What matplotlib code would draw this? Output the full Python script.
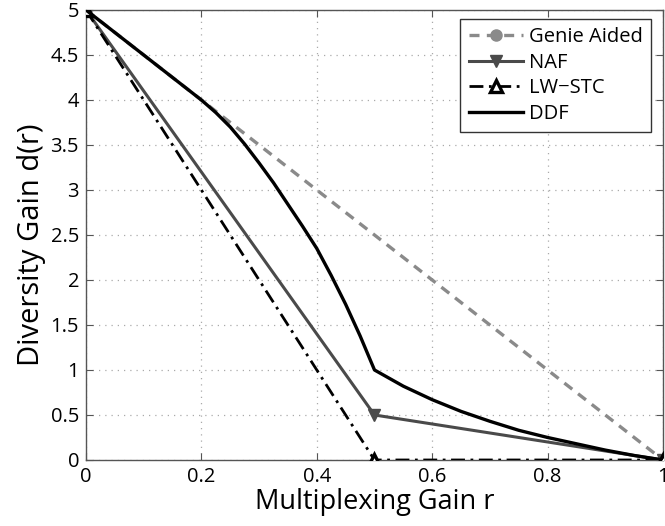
import matplotlib
matplotlib.use("Agg")
from matplotlib import pyplot as plt

# Data
r_genie = [0, 1]
d_genie = [5, 0]

r_naf = [0, 0.5, 1]
d_naf = [5, 0.5, 0]

r_lw = [0, 0.5, 1]
d_lw = [5, 0, 0]

r_ddf = [0, 0.2, 0.225, 0.25, 0.275, 0.3, 0.325, 0.35, 0.375, 0.4, 0.425, 0.45, 0.475, 0.5,
         0.55, 0.6, 0.65, 0.7, 0.75, 0.8, 0.85, 0.9, 0.95, 1.0]
d_ddf = [5, 4.0, 3.86, 3.70, 3.51, 3.30, 3.08, 2.84, 2.60, 2.35, 2.05, 1.73, 1.38, 1.0,
         0.82, 0.67, 0.54, 0.43, 0.33, 0.25, 0.18, 0.11, 0.05, 0]

x_ticks = [0, 0.2, 0.4, 0.6, 0.8, 1]
x_labels = ["0", "0.2", "0.4", "0.6", "0.8", "1"]
y_ticks = [0, 0.5, 1, 1.5, 2, 2.5, 3, 3.5, 4, 4.5, 5]
y_labels = ["0", "0.5", "1", "1.5", "2", "2.5", "3", "3.5", "4", "4.5", "5"]

plt.rcParams['font.family'] = ['Open Sans', 'DejaVu Sans']

fig = plt.figure(figsize=(6.65, 5.26), dpi=100)
ax = fig.add_axes([0.1293, 0.1255, 0.8677, 0.8555])

ax.plot(r_genie, d_genie, color="#8a8a8a", lw=2.4, ls=(0, (3, 2.2)),
        marker="o", ms=8, mfc="#8a8a8a", mec="#8a8a8a", label="Genie Aided", zorder=2)
ax.plot(r_naf, d_naf, color="#4a4a4a", lw=2.2, marker="v", ms=9,
        mfc="#4a4a4a", mec="#4a4a4a", label="NAF", zorder=3)
ax.plot(r_lw, d_lw, color="black", lw=2.0, ls=(0, (5, 2, 1, 2)), marker="^", ms=9,
        mfc="white", mec="black", mew=2.4, label="LW\u2212STC", zorder=4)
ax.plot(r_ddf, d_ddf, color="black", lw=2.4, label="DDF", zorder=5)

ax.set_xlim(0, 1)
ax.set_ylim(0, 5)
ax.set_xticks(x_ticks)
ax.set_xticklabels(x_labels)
ax.set_yticks(y_ticks)
ax.set_yticklabels(y_labels)
ax.tick_params(direction="in", top=True, right=True, labelsize=14.5, length=5,
               color="#555555", pad=5)
for s in ax.spines.values():
    s.set_color("#555555")
    s.set_linewidth(1.0)
ax.grid(True, ls=(0, (1, 4)), color="#aaaaaa", lw=0.9)

ax.set_xlabel("Multiplexing Gain r", fontsize=19.5, labelpad=1)
ax.set_ylabel("Diversity Gain d(r)", fontsize=21)
ax.yaxis.set_label_coords(-0.07, 0.478)

leg = ax.legend(loc="upper right", bbox_to_anchor=(0.979, 0.98), borderaxespad=0,
                fontsize=14.5, fancybox=False, framealpha=1,
                edgecolor="#333333", handlelength=2.7, borderpad=0.4,
                labelspacing=0.28, handletextpad=0.3)
leg.get_frame().set_linewidth(1.0)

fig.savefig("out.png", dpi=100)
